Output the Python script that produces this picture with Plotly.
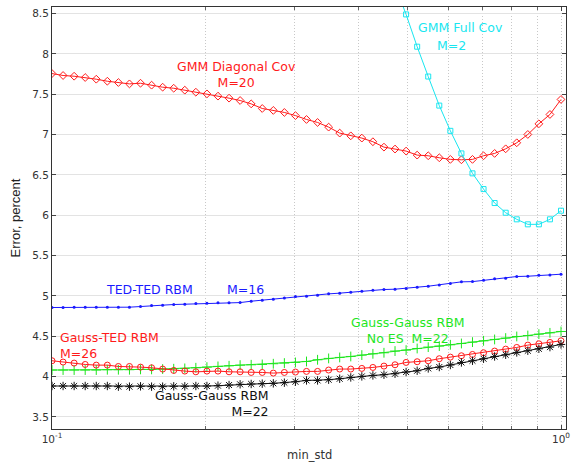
import numpy as np
import plotly.graph_objects as go

# x grid: 47 log-spaced min_std values from 0.1 to 1
min_std = np.logspace(-1, 0, 47)

gmm_diag = [7.757, 7.733, 7.724, 7.708, 7.687, 7.662, 7.646, 7.629, 7.637, 7.613,
            7.588, 7.575, 7.551, 7.526, 7.505, 7.477, 7.452, 7.423, 7.381, 7.324,
            7.300, 7.275, 7.236, 7.188, 7.151, 7.093, 7.019, 6.985, 6.957, 6.912,
            6.845, 6.821, 6.796, 6.746, 6.738, 6.713, 6.693, 6.688, 6.693, 6.738,
            6.767, 6.824, 6.899, 7.002, 7.134, 7.250, 7.436]

gmm_full = [None] * 30 + [9.25, 8.85,
            8.49, 8.09, 7.72, 7.36, 7.047, 6.767, 6.52, 6.325, 6.152, 6.032,
            5.95, 5.888, 5.888, 5.95, 6.057]

ted_ted = [4.857, 4.857, 4.861, 4.861, 4.861, 4.861, 4.861, 4.861, 4.869, 4.881,
           4.886, 4.894, 4.898, 4.906, 4.911, 4.915, 4.915, 4.918, 4.935, 4.948,
           4.960, 4.976, 4.993, 4.997, 5.010, 5.026, 5.035, 5.047, 5.059, 5.072,
           5.080, 5.084, 5.092, 5.109, 5.121, 5.137, 5.154, 5.175, 5.178, 5.195,
           5.212, 5.220, 5.241, 5.245, 5.257, 5.261, 5.270]

gauss_ted = [4.197, 4.181, 4.168, 4.151, 4.143, 4.143, 4.126, 4.126, 4.118, 4.110,
             4.094, 4.077, 4.069, 4.060, 4.069, 4.069, 4.060, 4.060, 4.052, 4.052,
             4.044, 4.052, 4.057, 4.065, 4.065, 4.082, 4.094, 4.094, 4.102, 4.114,
             4.131, 4.147, 4.176, 4.185, 4.197, 4.222, 4.242, 4.259, 4.275, 4.296,
             4.317, 4.341, 4.362, 4.391, 4.407, 4.424, 4.444]

gauss_gauss_noes = [4.082, 4.082, 4.082, 4.082, 4.082, 4.086, 4.086, 4.086, 4.090, 4.090,
                    4.094, 4.098, 4.102, 4.110, 4.118, 4.127, 4.135, 4.143, 4.147, 4.151,
                    4.160, 4.168, 4.176, 4.188, 4.209, 4.226, 4.238, 4.250, 4.267, 4.283,
                    4.296, 4.317, 4.329, 4.349, 4.366, 4.379, 4.395, 4.411, 4.428, 4.444,
                    4.461, 4.478, 4.498, 4.510, 4.527, 4.543, 4.560]

gauss_gauss = [3.884, 3.884, 3.884, 3.884, 3.884, 3.884, 3.876, 3.876, 3.880, 3.876,
               3.876, 3.880, 3.880, 3.884, 3.884, 3.888, 3.896, 3.905, 3.909, 3.913,
               3.917, 3.925, 3.937, 3.953, 3.953, 3.962, 3.974, 3.990, 4.003, 4.015,
               4.024, 4.036, 4.057, 4.073, 4.102, 4.119, 4.144, 4.176, 4.197, 4.222,
               4.250, 4.271, 4.300, 4.321, 4.345, 4.366, 4.399]

y_ticks = [3.5, 4, 4.5, 5, 5.5, 6, 6.5, 7, 7.5, 8, 8.5]
y_tick_text = ["3.5", "4", "4.5", "5", "5.5", "6", "6.5", "7", "7.5", "8", "8.5"]
x_ticks = [0.1, 1]
x_tick_text = ["10<sup>-1</sup>", "10<sup>0</sup>"]
x_minor = [0.2, 0.3, 0.4, 0.5, 0.6, 0.7, 0.8, 0.9]

RED = "#ff1a1a"
CYAN = "#19e6f0"
BLUE = "#1a1aff"
GREEN = "#1ee61e"
BLACK = "#111111"

fig = go.Figure()

def add(y, color, symbol, size, width=1.0, mlw=1.0):
    fig.add_trace(go.Scatter(
        x=min_std, y=y, mode="lines+markers",
        line=dict(color=color, width=width),
        marker=dict(symbol=symbol, size=size, color=color,
                    line=dict(color=color, width=mlw)),
        showlegend=False, connectgaps=False))

add(gmm_diag, RED, "diamond-open", 6)
add(gmm_full, CYAN, "square-open", 5)
add(ted_ted, BLUE, "circle", 3, mlw=0)
add(gauss_gauss_noes, GREEN, "cross-thin-open", 7)
add(gauss_ted, RED, "circle-open", 6)
add(gauss_gauss, BLACK, "asterisk-open", 7)

FONT = "DejaVu Sans"
AS = 12.5

def note(text, xl, y, color, anchor="center", align="center"):
    fig.add_annotation(x=xl, y=y, xref="x", yref="y", text=text, showarrow=False,
                       xanchor=anchor, yanchor="middle", align=align,
                       font=dict(family=FONT, size=AS, color=color))

note("GMM Diagonal Cov<br>M=20", -0.6385, 7.746, RED)
note("GMM Full Cov", -0.1965, 8.334, CYAN)
note("M=2", -0.216, 8.099, CYAN)
note("TED-TED RBM", -0.8075, 5.075, BLUE)
note("M=16", -0.6208, 5.075, BLUE)
note("Gauss-TED RBM<br>M=26", -0.988, 4.382, RED, "left", "left")
note("Gauss-Gauss RBM<br>M=22", -0.5697, 3.668, BLACK, "right", "right")
note("Gauss-Gauss RBM<br>No ES\u00a0 M=22", -0.3006, 4.568, GREEN)

# x-axis title placed just under the tick labels
fig.add_annotation(x=0.5, y=0, xref="paper", yref="paper", yshift=-26,
                   text="min_std", showarrow=False, xanchor="center", yanchor="middle",
                   font=dict(family=FONT, size=11.5, color="#333333"))

fig.update_layout(
    width=573, height=462,
    margin=dict(l=52, r=7, t=7, b=33),
    paper_bgcolor="white", plot_bgcolor="white",
    font=dict(family=FONT, size=10.5, color="#333333"),
)

fig.update_xaxes(
    type="log", range=[-1, 0.0098],
    tickvals=x_ticks, ticktext=x_tick_text,
    ticks="inside", ticklen=4, tickcolor="#444444",
    showgrid=True, gridcolor="#c8c8c8", griddash="1px,2px", gridwidth=1,
    showline=True, linecolor="#333333", linewidth=1, mirror="ticks",
    zeroline=False, automargin=False,
    minor=dict(tickvals=x_minor, ticks="inside", ticklen=3, tickcolor="#666666",
               showgrid=True, gridcolor="#c8c8c8", griddash="1px,2px", gridwidth=1),
    tickfont=dict(family=FONT, size=10.5, color="#333333"),
)

fig.update_yaxes(
    range=[3.351, 8.582],
    tickvals=y_ticks, ticktext=y_tick_text,
    ticks="inside", ticklen=4, tickcolor="#444444",
    showgrid=True, gridcolor="#e3e3e3", gridwidth=1,
    showline=True, linecolor="#333333", linewidth=1, mirror="ticks",
    zeroline=False, automargin=False,
    title=dict(text="Error, percent", standoff=8,
               font=dict(family="Liberation Sans Narrow, Liberation Sans", size=13, color="#222222")),
    tickfont=dict(family=FONT, size=10.5, color="#333333"),
)

fig.write_html("out.html", config={"displayModeBar": False},
               post_script="document.body.style.margin='0px';")
